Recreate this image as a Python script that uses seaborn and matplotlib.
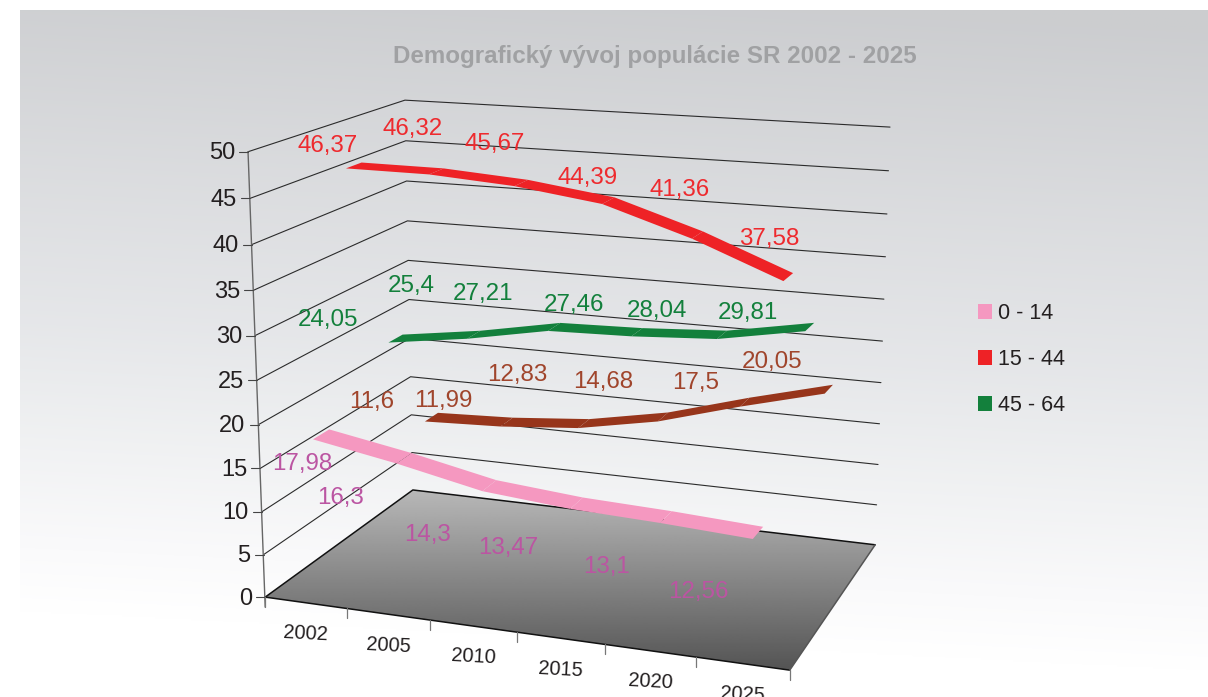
import numpy as np
import pandas as pd
import matplotlib
matplotlib.use('Agg')
import matplotlib.pyplot as plt
from matplotlib.patches import Patch, Polygon
import seaborn as sns

years = ['2002', '2005', '2010', '2015', '2020', '2025']
y_ticks = [0, 5, 10, 15, 20, 25, 30, 35, 40, 45, 50]

# series, front to back
age_0_14 = [17.98, 16.3, 14.3, 13.47, 13.1, 12.56]
age_15_44 = [46.37, 46.32, 45.67, 44.39, 41.36, 37.58]
age_45_64 = [24.05, 25.4, 27.21, 27.46, 28.04, 29.81]
age_65 = [11.6, 11.99, 12.83, 14.68, 17.5, 20.05]

labels_0_14 = ['17,98', '16,3', '14,3', '13,47', '13,1', '12,56']
labels_15_44 = ['46,37', '46,32', '45,67', '44,39', '41,36', '37,58']
labels_45_64 = ['24,05', '25,4', '27,21', '27,46', '28,04', '29,81']
labels_65 = ['11,6', '11,99', '12,83', '14,68', '17,5', '20,05']

# data label shift from the ribbon point, in pixels
off_0_14 = [(-19, 28), (-64, 38), (-62, 47), (-68, 43), (-60, 48), (-60, 57)]
off_15_44 = [(-26, -21), (-24, -44), (-27, -41), (-21, -25), (-18, -47), (-19, -40)]
off_45_64 = [(-68, -21), (-63, -51), (-71, -35), (-63, -29), (-65, -26), (-62, -16)]
off_65 = [(-60, -17), (-63, -23), (-67, -51), (-60, -37), (-49, -21), (-57, -29)]

series = [
    (age_65, labels_65, off_65, 0.875, '#97351b', '#a0452c'),
    (age_45_64, labels_45_64, off_45_64, 0.625, '#13803c', '#13803c'),
    (age_15_44, labels_15_44, off_15_44, 0.375, '#ee2226', '#ee2a2e'),
    (age_0_14, labels_0_14, off_0_14, 0.125, '#f598c0', '#bb55a2'),
]

# 3d box: world (category, value, depth) -> picture pixel
world = np.array([[0, 0, 0], [0, 0, 1], [6, 0, 1], [6, 0, 0],
                  [0, 50, 0], [0, 50, 1], [6, 50, 1]], dtype=float)
pixel = np.array([[265, 597], [413, 490], [875, 545], [790, 670],
                  [248, 152], [405, 100], [890, 127]], dtype=float)

rows = []
rhs = []
for (x, y, z), (u, v) in zip(world, pixel):
    rows.append([x, y, z, 1, 0, 0, 0, 0, -u * x, -u * y, -u * z])
    rhs.append(u)
    rows.append([0, 0, 0, 0, x, y, z, 1, -v * x, -v * y, -v * z])
    rhs.append(v)
m = np.linalg.lstsq(np.array(rows), np.array(rhs), rcond=None)[0]
P = np.append(m, 1).reshape(3, 4)


def project(x, y, z):
    h = P @ np.array([x, y, z, 1.0])
    return h[0] / h[2], h[1] / h[2]


sns.set_theme(style='white')
plt.rcParams['font.family'] = ['Liberation Sans', 'DejaVu Sans']
text_col = '#231f20'

fig = plt.figure(figsize=(12.08, 6.97), dpi=100, facecolor='white')
ax = fig.add_axes([0, 0, 1, 1])

# panel background, slightly blue grey fading to white
yy, xx = np.mgrid[10:697:400j, 20:1208:400j]
pos = yy - 0.05 * (xx - 600)
stops = [0, 200, 350, 450, 560, 640]
shade = np.dstack([np.interp(pos, stops, [0.80, 0.86, 0.90, 0.935, 0.975, 1.0]),
                   np.interp(pos, stops, [0.805, 0.865, 0.905, 0.94, 0.975, 1.0]),
                   np.interp(pos, stops, [0.815, 0.875, 0.915, 0.945, 0.98, 1.0])])
ax.imshow(shade, extent=(20, 1208, 697, 10), aspect='auto', zorder=0)

# floor
floor_pts = [project(*c) for c in [(0, 0, 0), (0, 0, 1), (6, 0, 1), (6, 0, 0)]]
floor_grad = np.linspace(0.72, 0.33, 200).reshape(-1, 1)
floor_img = ax.imshow(floor_grad, cmap='gray', vmin=0, vmax=1, extent=(265, 875, 670, 490),
                      aspect='auto', zorder=1)
floor_img.set_clip_path(Polygon(floor_pts, transform=ax.transData))

# wall grid lines
grid_rows = []
for val in y_ticks[1:]:
    for c in [(0, val, 0), (0, val, 1), (6, val, 1)]:
        px, py = project(*c)
        grid_rows.append({'px': px, 'py': py, 'level': val})
grid_df = pd.DataFrame(grid_rows)
sns.lineplot(data=grid_df, x='px', y='py', units='level', estimator=None, sort=False,
             color='#2b2b2b', linewidth=0.8, legend=False, ax=ax, zorder=2)

# floor edges
edges = pd.DataFrame([{'px': p[0], 'py': p[1], 'edge': e} for e, pts in
                      enumerate([[(0, 0, 0), (0, 0, 1), (6, 0, 1)], [(0, 0, 0), (6, 0, 0)]])
                      for p in [project(*c) for c in pts]])
sns.lineplot(data=edges, x='px', y='py', units='edge', estimator=None, sort=False,
             color='#111111', linewidth=1.1, legend=False, ax=ax, zorder=3)
px0, py0 = project(6, 0, 0)
px1, py1 = project(6, 0, 1)
ax.plot([px0, px1], [py0, py1], color='#555555', lw=1.1, zorder=3)

# value axis and ticks
ax_x0, ax_y0 = project(0, 0, 0)
ax_x1, ax_y1 = project(0, 50, 0)
ax.plot([ax_x0, ax_x1], [ax_y0 + 10, ax_y1], color='#666666', lw=1.0, zorder=3)
for val in y_ticks:
    px, py = project(0, val, 0)
    ax.plot([px - 9, px], [py, py], color='#444444', lw=0.8, zorder=3)
    ax.text(px - 13, py + 1.5, str(val), ha='right', va='center', fontsize=17, color=text_col, zorder=6)

# category ticks
for i in range(len(years) + 1):
    px, py = project(i, 0, 0)
    ax.plot([px, px], [py, py + 10], color='#777777', lw=0.9, zorder=3)
for i, yr in enumerate(years):
    px, py = project(i + 0.5, 0, 0)
    ax.text(px, py + 31, yr, ha='center', va='center', fontsize=14.5, rotation=-3,
            rotation_mode='anchor', color=text_col, zorder=6)

# ribbons, back to front, one quad per segment
half = 0.05
for vals, labs, offs, z, col, lab_col in series:
    for i in range(len(vals) - 1):
        quad = [project(i + 0.5, vals[i], z - half),
                project(i + 0.5, vals[i], z + half),
                project(i + 1.5, vals[i + 1], z + half),
                project(i + 1.5, vals[i + 1], z - half)]
        ax.fill(*zip(*quad), color=col, linewidth=0, zorder=4)

for vals, labs, offs, z, col, lab_col in series:
    for i, (v, lab) in enumerate(zip(vals, labs)):
        px, py = project(i + 0.5, v, z)
        ax.text(px + offs[i][0], py + offs[i][1] + 2, lab, ha='center', va='center',
                fontsize=17.4, color=lab_col, zorder=7)

ax.text(655, 56, 'Demografický vývoj populácie SR 2002 - 2025', ha='center', va='center',
        fontsize=17.4, fontweight='bold', color='#a0a1a3', zorder=6)

handles = [Patch(facecolor='#f598c0', linewidth=0, label='0 - 14'),
           Patch(facecolor='#ee2226', linewidth=0, label='15 - 44'),
           Patch(facecolor='#13803c', linewidth=0, label='45 - 64')]
ax.legend(handles=handles, loc='upper left', bbox_to_anchor=(978, 303), bbox_transform=ax.transData,
          frameon=False, borderpad=0, borderaxespad=0, fontsize=15.5, labelcolor=text_col,
          handlelength=0.65, handleheight=0.65, handletextpad=0.3, labelspacing=1.16)

ax.set_xlim(0, 1208)
ax.set_ylim(697, 0)
ax.set_axis_off()
fig.savefig('out.png', dpi=100)
plt.close(fig)
